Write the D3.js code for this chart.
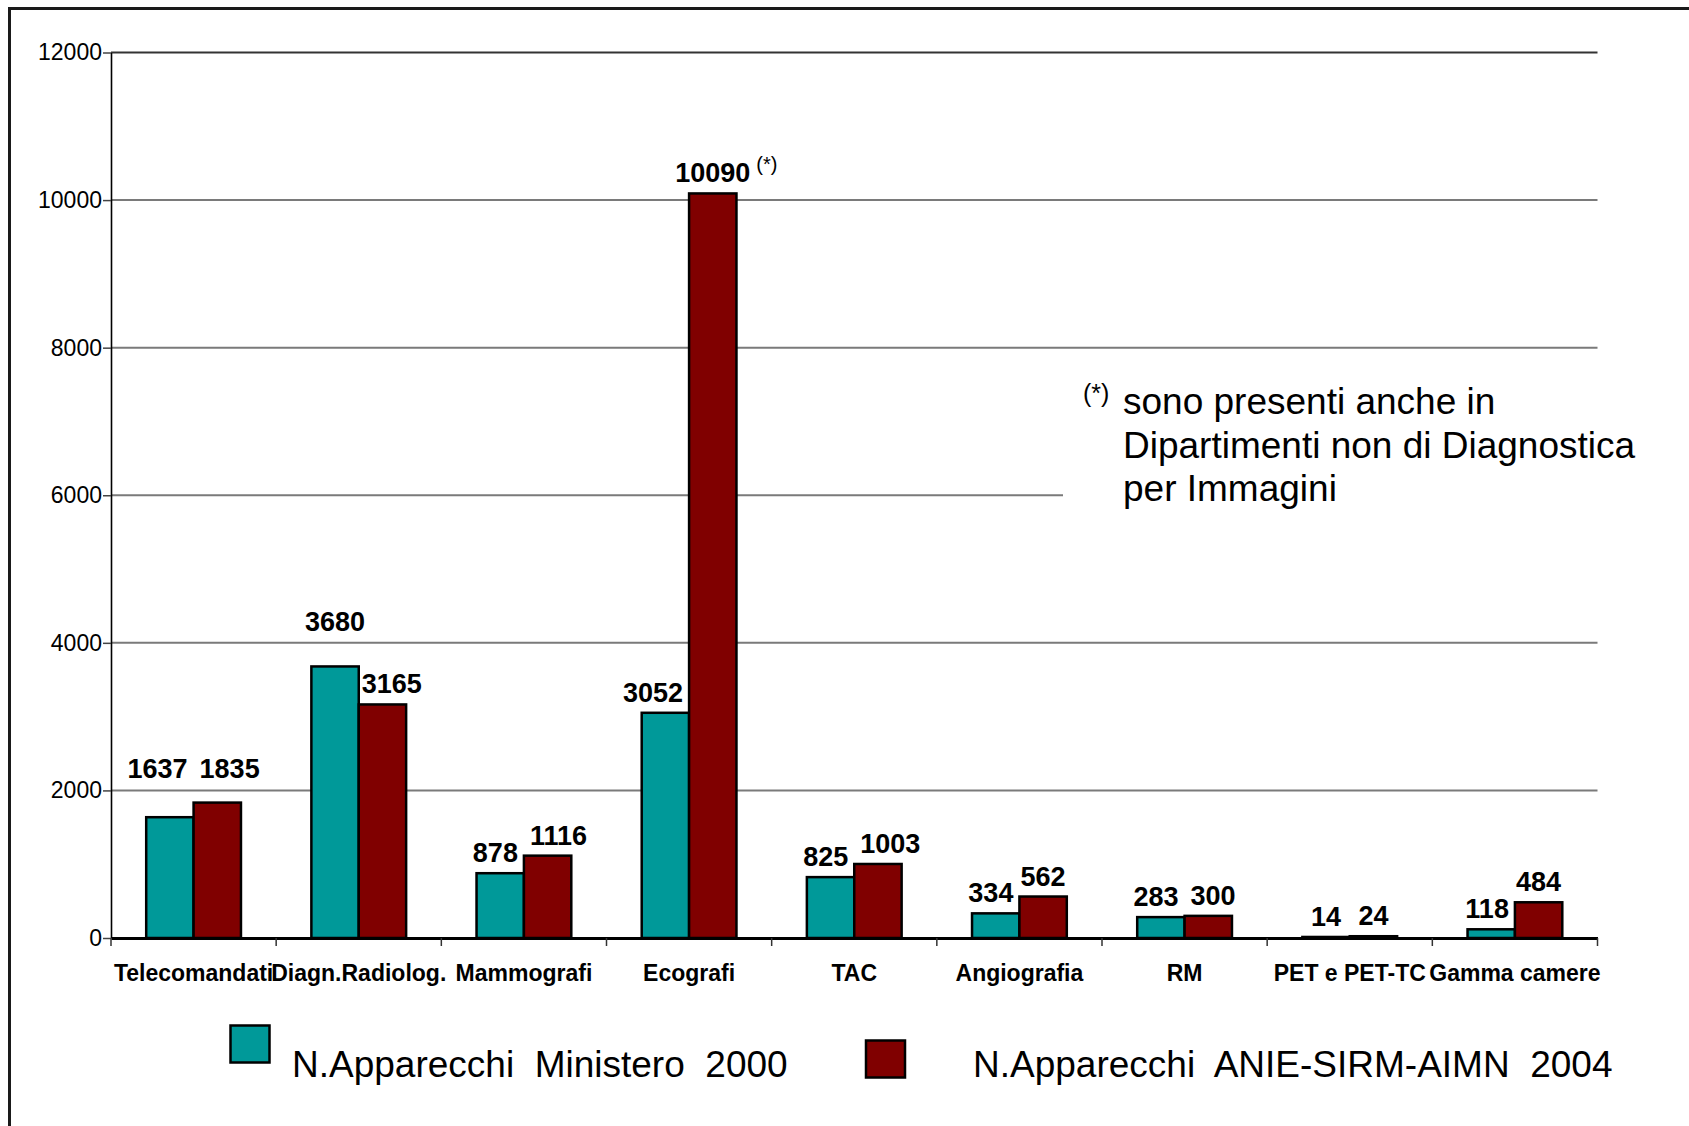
<!DOCTYPE html>
<html>
<head>
<meta charset="utf-8">
<script src="https://cdn.jsdelivr.net/npm/d3@7"></script>
<style>
  html, body { margin: 0; padding: 0; background: #fff; }
  svg { display: block; font-family: "Liberation Sans", Arial, sans-serif; }
</style>
</head>
<body>
<svg id="chart" width="1689" height="1126"></svg>
<script>
// ---- data ----
const categories = ["Telecomandati", "Diagn.Radiolog.", "Mammografi", "Ecografi", "TAC", "Angiografia", "RM", "PET e PET-TC", "Gamma camere"];
const ministero2000 = [1637, 3680, 878, 3052, 825, 334, 283, 14, 118];
const anie2004 = [1835, 3165, 1116, 10090, 1003, 562, 300, 24, 484];
const seriesNames = ["N.Apparecchi  Ministero  2000", "N.Apparecchi  ANIE-SIRM-AIMN  2004"];
const yTicks = [0, 2000, 4000, 6000, 8000, 10000, 12000];
const footnoteMark = "(*)";
const footnoteLines = ["sono presenti anche in", "Dipartimenti non di Diagnostica", "per Immagini"];
const starredCategory = "Ecografi";
const starredSeries = 1;

(function () {
// ---- layout ----
const W = 1689, H = 1126;
const pLeft = 111, pRight = 1597.5, pTop = 52.5, pBottom = 938;
const colors = ["#009999", "#800000"];

const svg = d3.select("#chart");
svg.append("rect").attr("width", W).attr("height", H).attr("fill", "#fff");

// outer frame (extends beyond right/bottom edge like the original)
svg.append("rect")
  .attr("x", 9.5).attr("y", 8.5).attr("width", W + 40).attr("height", H + 40)
  .attr("fill", "none").attr("stroke", "#1a1a1a").attr("stroke-width", 3);

const y = d3.scaleLinear().domain([0, 12000]).range([pBottom, pTop]);
const x0 = d3.scaleBand().domain(categories).range([pLeft, pRight]).paddingInner(0).paddingOuter(0);
const x1 = d3.scaleBand().domain([0, 1]).range([0, x0.bandwidth()]).paddingInner(0).paddingOuter(0.743);

// gridlines
const gridVals = yTicks.filter(d => d > 0);
svg.append("g").selectAll("line")
  .data(gridVals)
  .join("line")
  .attr("x1", pLeft).attr("x2", pRight)
  .attr("y1", d => y(d)).attr("y2", d => y(d))
  .attr("stroke", d => d === 12000 ? "#333" : "#7a7a7a")
  .attr("stroke-width", 2);

// footnote box (white, hides part of gridline)
const fn = svg.append("g");
fn.append("rect").attr("x", 1063).attr("y", 362).attr("width", 640).attr("height", 158).attr("fill", "#fff");
fn.append("text").attr("x", 1083).attr("y", 402).attr("font-size", 25).attr("fill", "#000").text(footnoteMark);
fn.selectAll("text.line").data(footnoteLines).join("text").attr("class", "line")
  .attr("x", 1123).attr("y", (d, i) => 414 + i * 43.7)
  .attr("font-size", 37).attr("fill", "#000").text(d => d);

// y axis
const yAxis = svg.append("g").attr("transform", `translate(${pLeft},0)`)
  .call(d3.axisLeft(y).tickValues(yTicks).tickFormat(d3.format("d")).tickSize(8).tickSizeOuter(0).tickPadding(1));
yAxis.select(".domain").attr("stroke", "#000").attr("stroke-width", 1.6);
yAxis.selectAll(".tick line").attr("stroke", "#444").attr("stroke-width", 1.5);
yAxis.selectAll(".tick text").attr("font-size", 23).attr("font-family", "Liberation Sans, Arial, sans-serif").attr("fill", "#000");

// bars
const rows = categories.map((c, i) => ({ c, vals: [ministero2000[i], anie2004[i]] }));
const groups = svg.append("g").selectAll("g")
  .data(rows).join("g")
  .attr("transform", d => `translate(${x0(d.c)},0)`);

groups.selectAll("rect")
  .data(d => d.vals.map((v, k) => ({ v, k })))
  .join("rect")
  .attr("x", d => x1(d.k))
  .attr("width", x1.bandwidth())
  .attr("y", d => y(d.v))
  .attr("height", d => y(0) - y(d.v))
  .attr("fill", d => colors[d.k])
  .attr("stroke", "#000")
  .attr("stroke-width", 2.5);

// x axis
const xAxis = svg.append("g").attr("transform", `translate(0,${pBottom})`)
  .call(d3.axisBottom(x0).tickSize(0).tickSizeOuter(0));
xAxis.select(".domain").attr("stroke", "#000").attr("stroke-width", 3);
xAxis.selectAll(".tick text")
  .attr("y", 43).attr("dy", 0)
  .attr("font-size", 23).attr("font-weight", "bold")
  .attr("font-family", "Liberation Sans, Arial, sans-serif").attr("fill", "#000");
const boundaries = categories.map(c => x0(c)).concat([x0(categories[categories.length - 1]) + x0.bandwidth()]);
svg.append("g").selectAll("line").data(boundaries).join("line")
  .attr("x1", d => d).attr("x2", d => d)
  .attr("y1", pBottom).attr("y2", pBottom + 8)
  .attr("stroke", "#333").attr("stroke-width", 1.5);

// value labels
const labelSize = 27;
const capH = labelSize * 0.72;
const labelLayer = svg.append("g");
rows.forEach(r => {
  const gx = x0(r.c);
  const mid = gx + x1(1);
  const labs = r.vals.map((v, k) => {
    const t = labelLayer.append("text")
      .attr("font-size", labelSize).attr("font-weight", "bold")
      .attr("text-anchor", "middle").attr("fill", "#000").text(v);
    const w = t.node().getComputedTextLength();
    return { t, v, k, w, cx: gx + x1(k) + x1.bandwidth() / 2, by: y(v) - 11 };
  });
  const [a, b] = labs;
  // lift a label above a gridline it would sit on
  labs.forEach(l => {
    gridVals.forEach(g => {
      const gy = y(g);
      if (gy > l.by - capH - 2 && gy < l.by + 3) l.by = gy - 12;
    });
  });
  // keep a label clear of the neighbouring taller bar
  labs.forEach(l => {
    const other = labs[1 - l.k];
    if (y(other.v) < l.by) {
      if (l.k === 0 && l.cx + l.w / 2 > mid - 6) l.cx = mid - 6 - l.w / 2;
      if (l.k === 1 && l.cx - l.w / 2 < mid + 3) l.cx = mid + 3 + l.w / 2;
    }
  });
  // spread two labels apart horizontally if they collide
  const overlapX = (a.cx + a.w / 2 + 4) > (b.cx - b.w / 2);
  const overlapY = Math.abs(a.by - b.by) < capH + 2;
  if (overlapX && overlapY) {
    const gc = gx + x0.bandwidth() / 2, gap = 12;
    a.cx = gc - gap / 2 - a.w / 2;
    b.cx = gc + gap / 2 + b.w / 2;
  }
  labs.forEach(l => {
    l.t.attr("x", l.cx).attr("y", l.by);
    if (r.c === starredCategory && l.k === starredSeries) {
      labelLayer.append("text")
        .attr("x", l.cx + l.w / 2 + 6).attr("y", l.by - 11)
        .attr("font-size", 20).attr("fill", "#000").text(footnoteMark);
    }
  });
});

// legend
const legend = svg.append("g");
const legendItems = [
  { name: seriesNames[0], color: colors[0], sx: 230.5, sy: 1025.5, tx: 292 },
  { name: seriesNames[1], color: colors[1], sx: 866, sy: 1040.5, tx: 973 }
];
legendItems.forEach(it => {
  legend.append("rect").attr("x", it.sx).attr("y", it.sy).attr("width", 39).attr("height", 37)
    .attr("fill", it.color).attr("stroke", "#000").attr("stroke-width", 2.5);
  legend.append("text").attr("x", it.tx).attr("y", 1077)
    .attr("font-size", 37).attr("fill", "#000")
    .style("white-space", "pre").attr("xml:space", "preserve")
    .text(it.name);
});
})();
</script>
</body>
</html>
